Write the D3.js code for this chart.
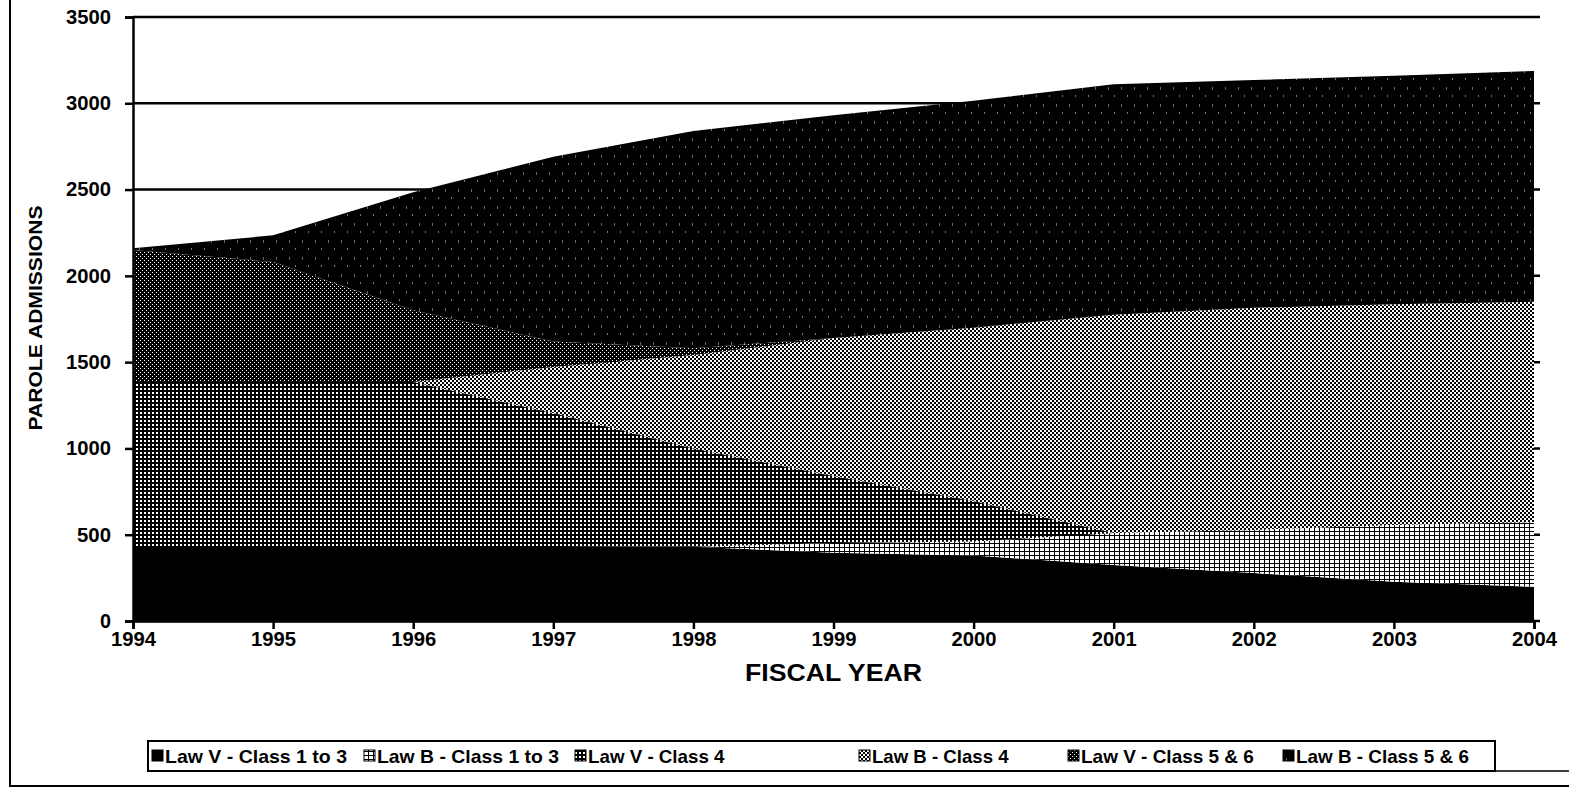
<!DOCTYPE html>
<html>
<head>
<meta charset="utf-8">
<script src="https://cdn.jsdelivr.net/npm/d3@7"></script>
<style>
body { margin: 0; background: #fff; }
text { font-family: "Liberation Sans", Arial, sans-serif; font-weight: bold; fill: #000; }
</style>
</head>
<body>
<svg id="chart" width="1569" height="787"></svg>
<script>
// fiscal years on the x axis
var years = [1994, 1995, 1996, 1997, 1998, 1999, 2000, 2001, 2002, 2003, 2004];

// parole admissions by law / class (bottom to top)
var lawV_1to3 = [435, 435, 435, 435, 430, 395, 380, 325, 278, 228, 198];
var lawB_1to3 = [0, 0, 0, 0, 0, 57, 80, 185, 250, 328, 375];
var lawV_4    = [950, 950, 950, 770, 570, 388, 235, 0, 0, 0, 0];
var lawB_4    = [0, 0, 0, 267, 541, 800, 1005, 1265, 1287, 1279, 1277];
var lawV_5to6 = [765, 695, 415, 148, 39, 0, 0, 0, 0, 0, 0];
var lawB_5to6 = [10, 155, 685, 1070, 1260, 1290, 1315, 1335, 1320, 1325, 1337];

var seriesNames = ['Law V - Class 1 to 3', 'Law B - Class 1 to 3', 'Law V - Class 4',
	'Law B - Class 4', 'Law V - Class 5 & 6', 'Law B - Class 5 & 6'];
var yTicks = [0, 500, 1000, 1500, 2000, 2500, 3000, 3500];

// layout
var plot = {left: 133, right: 1534, top: 17, bottom: 621};
var legendBox = {x: 148, y: 741, w: 1347, h: 30};
var legendX = [152, 364, 575, 859, 1068, 1283];
var patternIds = ['pV13', 'pB13', 'pV4', 'pB4', 'pV56', 'pB56'];

var svg = d3.select('#chart');

addPatterns = function(){
	var defs = svg.append('defs');
	// solid black
	var p = defs.append('pattern').attr('id', 'pV13').attr('patternUnits', 'userSpaceOnUse')
		.attr('width', 4).attr('height', 4);
	p.append('rect').attr('width', 4).attr('height', 4).attr('fill', '#000');
	// white with small dark dots
	p = defs.append('pattern').attr('id', 'pB13').attr('patternUnits', 'userSpaceOnUse')
		.attr('width', 5).attr('height', 4);
	p.append('rect').attr('width', 5).attr('height', 4).attr('fill', '#000');
	p.append('rect').attr('width', 4).attr('height', 3).attr('fill', '#fff');
	// black with white grid dots
	p = defs.append('pattern').attr('id', 'pV4').attr('patternUnits', 'userSpaceOnUse')
		.attr('width', 4).attr('height', 4);
	p.append('rect').attr('width', 4).attr('height', 4).attr('fill', '#000');
	p.append('rect').attr('width', 2).attr('height', 2).attr('fill', '#fff');
	// fine checker
	p = defs.append('pattern').attr('id', 'pB4').attr('patternUnits', 'userSpaceOnUse')
		.attr('width', 4).attr('height', 4);
	p.append('rect').attr('width', 4).attr('height', 4).attr('fill', '#fff');
	p.append('rect').attr('width', 2).attr('height', 2).attr('fill', '#000');
	p.append('rect').attr('x', 2).attr('y', 2).attr('width', 2).attr('height', 2).attr('fill', '#000');
	// dark stipple
	p = defs.append('pattern').attr('id', 'pV56').attr('patternUnits', 'userSpaceOnUse')
		.attr('width', 4).attr('height', 4);
	p.append('rect').attr('width', 4).attr('height', 4).attr('fill', '#000');
	p.append('rect').attr('width', 1).attr('height', 1).attr('fill', '#fff');
	p.append('rect').attr('x', 2).attr('y', 2).attr('width', 1).attr('height', 1).attr('fill', '#fff');
	// black with sparse vertical streaks
	p = defs.append('pattern').attr('id', 'pB56').attr('patternUnits', 'userSpaceOnUse')
		.attr('width', 13).attr('height', 17);
	p.append('rect').attr('width', 13).attr('height', 17).attr('fill', '#000');
	p.append('rect').attr('x', 3).attr('y', 2).attr('width', 1).attr('height', 3).attr('fill', '#666');
	p.append('rect').attr('x', 9).attr('y', 10).attr('width', 1).attr('height', 2).attr('fill', '#777');
};

var x = d3.scaleLinear().domain([years[0], years[years.length - 1]]).range([plot.left, plot.right]);
var y = d3.scaleLinear().domain([0, 3500]).range([plot.bottom, plot.top]);

addGrid = function(){
	svg.append('g')
		.attr('id', 'gridG')
		.selectAll('line')
		.data(yTicks)
		.enter()
		.append('line')
		.attr('x1', plot.left)
		.attr('x2', plot.right + 6)
		.attr('y1', function(d) { return y(d); })
		.attr('y2', function(d) { return y(d); })
		.attr('stroke', '#000')
		.attr('stroke-width', 2.5);
};

addAreas = function(){
	var table = years.map(function(yr, i){
		return {year: yr, v0: lawV_1to3[i], v1: lawB_1to3[i], v2: lawV_4[i],
			v3: lawB_4[i], v4: lawV_5to6[i], v5: lawB_5to6[i]};
	});
	var stack = d3.stack().keys(['v0', 'v1', 'v2', 'v3', 'v4', 'v5']);
	var area = d3.area()
		.x(function(d) { return x(d.data.year); })
		.y0(function(d) { return y(d[0]); })
		.y1(function(d) { return y(d[1]); });
	svg.append('g')
		.attr('id', 'areaG')
		.selectAll('path')
		.data(stack(table))
		.enter()
		.append('path')
		.attr('fill', function(d, i) { return 'url(#' + patternIds[i] + ')'; })
		.attr('d', area);
};

addAxes = function(){
	var yAxis = svg.append('g')
		.attr('transform', 'translate(' + plot.left + ',0)')
		.call(d3.axisLeft(y).tickValues(yTicks).tickSize(8).tickPadding(14).tickFormat(d3.format('d')));
	var xAxis = svg.append('g')
		.attr('transform', 'translate(0,' + plot.bottom + ')')
		.call(d3.axisBottom(x).tickValues(years).tickSize(8).tickPadding(3).tickFormat(d3.format('d')));
	[yAxis, xAxis].forEach(function(a){
		a.select('.domain').attr('stroke', '#000').attr('stroke-width', 2.5);
		a.selectAll('.tick line').attr('stroke', '#000').attr('stroke-width', 2.5);
		a.selectAll('.tick text').attr('font-size', 20).attr('fill', '#000')
			.attr('font-family', '"Liberation Sans", Arial, sans-serif').attr('font-weight', 'bold')
			.attr('textLength', 45).attr('lengthAdjust', 'spacingAndGlyphs');
	});
	yAxis.selectAll('.tick text').filter(function(d) { return d < 1000; })
		.attr('textLength', function(d) { return d === 0 ? 11 : 34; });
	svg.append('text')
		.attr('x', (plot.left + plot.right) / 2)
		.attr('y', 681)
		.attr('text-anchor', 'middle')
		.attr('font-size', 24)
		.attr('textLength', 177)
		.attr('lengthAdjust', 'spacingAndGlyphs')
		.text('FISCAL YEAR');
	svg.append('text')
		.attr('transform', 'translate(42,318) rotate(-90)')
		.attr('text-anchor', 'middle')
		.attr('font-size', 18)
		.attr('textLength', 225)
		.attr('lengthAdjust', 'spacingAndGlyphs')
		.text('PAROLE ADMISSIONS');
};

addLegend = function(){
	svg.append('rect')
		.attr('x', legendBox.x).attr('y', legendBox.y)
		.attr('width', legendBox.w).attr('height', legendBox.h)
		.attr('fill', 'none').attr('stroke', '#000').attr('stroke-width', 2);
	var items = svg.append('g')
		.attr('id', 'legendG')
		.selectAll('g')
		.data(seriesNames)
		.enter()
		.append('g')
		.attr('transform', function(d, i) { return 'translate(' + legendX[i] + ',' + (legendBox.y + legendBox.h / 2) + ')'; });
	items.append('rect')
		.attr('x', 0).attr('y', -6)
		.attr('width', 11).attr('height', 11)
		.attr('fill', function(d, i) { return 'url(#' + patternIds[i] + ')'; })
		.attr('stroke', '#000').attr('stroke-width', 1);
	items.append('text')
		.attr('x', 13).attr('y', 7)
		.attr('font-size', 19)
		.attr('textLength', function(d) { return d.length * 9.1; })
		.attr('lengthAdjust', 'spacingAndGlyphs')
		.text(function(d) { return d; });
};

addFrame = function(){
	svg.append('line').attr('x1', 10).attr('x2', 10).attr('y1', 0).attr('y2', 787)
		.attr('stroke', '#000').attr('stroke-width', 2);
	svg.append('line').attr('x1', legendBox.x).attr('x2', 1569).attr('y1', 771).attr('y2', 771)
		.attr('stroke', '#000').attr('stroke-width', 1.5);
	svg.append('line').attr('x1', 10).attr('x2', 1569).attr('y1', 786).attr('y2', 786)
		.attr('stroke', '#000').attr('stroke-width', 2);
};

addPatterns();
addGrid();
addAreas();
addAxes();
addLegend();
addFrame();
</script>
</body>
</html>
